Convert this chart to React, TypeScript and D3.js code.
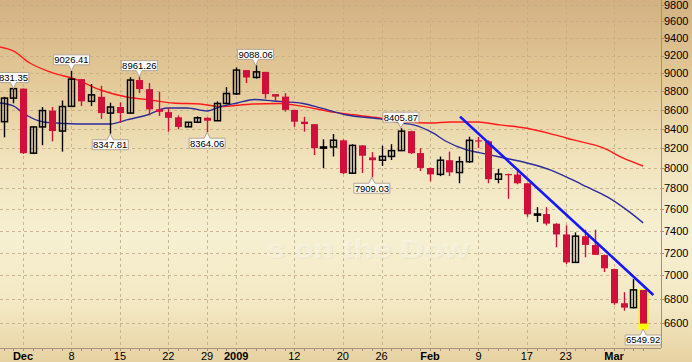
import React from 'react';
import * as d3 from 'd3';

const W = 692;
const H = 362;

// Trading days (Nov 26 2008 .. Mar 5 2009)
const dates = [
  'Nov 26', 'Nov 28',
  'Dec 1', 'Dec 2', 'Dec 3', 'Dec 4', 'Dec 5', 'Dec 8', 'Dec 9', 'Dec 10', 'Dec 11', 'Dec 12',
  'Dec 15', 'Dec 16', 'Dec 17', 'Dec 18', 'Dec 19', 'Dec 22', 'Dec 23', 'Dec 24', 'Dec 26',
  'Dec 29', 'Dec 30', 'Dec 31', 'Jan 2', 'Jan 5', 'Jan 6', 'Jan 7', 'Jan 8', 'Jan 9',
  'Jan 12', 'Jan 13', 'Jan 14', 'Jan 15', 'Jan 16', 'Jan 20', 'Jan 21', 'Jan 22', 'Jan 23',
  'Jan 26', 'Jan 27', 'Jan 28', 'Jan 29', 'Jan 30', 'Feb 2', 'Feb 3', 'Feb 4', 'Feb 5', 'Feb 6',
  'Feb 9', 'Feb 10', 'Feb 11', 'Feb 12', 'Feb 13', 'Feb 17', 'Feb 18', 'Feb 19', 'Feb 20',
  'Feb 23', 'Feb 24', 'Feb 25', 'Feb 26', 'Feb 27', 'Mar 2', 'Mar 3', 'Mar 4', 'Mar 5',
];

const opens = [
  8474, 8726,
  8829, 8149, 8419, 8591, 8376, 8637, 8934, 8691, 8740, 8565,
  8630, 8565, 8924, 8824, 8605, 8575, 8520, 8420, 8468,
  8515, 8484, 8668, 8772, 9035, 8953, 9015, 8769, 8742,
  8599, 8474, 8448, 8200, 8212, 8280, 7949, 8228, 8106,
  8078, 8116, 8175, 8375, 8150, 8000, 7937, 8078, 7955, 8063,
  8280, 8270, 7889, 7940, 7935, 7850, 7552, 7555, 7465,
  7366, 7115, 7350, 7270, 7180, 7056, 6763, 6726, 6875,
];
const highs = [
  8740, 8831.35,
  8831, 8420, 8630, 8630, 8700, 9026.41, 8936, 8880, 8860, 8677,
  8680, 8955, 8961.26, 8890, 8796, 8620, 8540, 8470, 8530,
  8520, 8690, 8845, 9065, 9035, 9088.06, 9015, 8770, 8780,
  8600, 8525, 8450, 8291, 8345, 8290, 8240, 8230, 8160,
  8225, 8240, 8405.87, 8380, 8200, 8005, 8115, 8165, 8115, 8317,
  8315, 8280, 7990, 7945, 7970, 7850, 7620, 7620, 7470,
  7450, 7385, 7410, 7410, 7185, 7060, 6856, 6968, 6875,
];
const lows = [
  8311, 8670,
  8141, 8140, 8230, 8270, 8165, 8635, 8640, 8640, 8503, 8347.81,
  8463, 8560, 8780, 8540, 8535, 8370, 8395, 8418, 8460,
  8364.06, 8484, 8660, 8760, 8890, 8940, 8720, 8700, 8580,
  8420, 8370, 8130, 7998, 8115, 7940, 7945, 7950, 7909.03,
  8020, 8080, 8170, 8140, 7970, 7870, 7920, 7920, 7850, 8050,
  8200, 7850, 7850, 7700, 7840, 7530, 7480, 7450, 7250,
  7100, 7110, 7160, 7180, 7030, 6750, 6700, 6720, 6549.92,
];
const closes = [
  8726, 8829,
  8149, 8419, 8592, 8376, 8635, 8934, 8691, 8761, 8565, 8630,
  8565, 8924, 8824, 8605, 8579, 8515, 8419, 8468, 8515,
  8484, 8668, 8776, 9035, 8953, 9015, 8770, 8742, 8599,
  8474, 8449, 8200, 8212, 8281, 7949, 8228, 8123, 8078,
  8116, 8175, 8375, 8149, 8001, 7937, 8078, 7957, 8063, 8280,
  8271, 7889, 7940, 7933, 7850, 7553, 7556, 7466, 7366,
  7115, 7351, 7271, 7182, 7063, 6763, 6726, 6876, 6594,
];

// Moving averages: [day position, value]
const redMA: [number, number][] = [
  [-0.4, 9298], [1.0, 9252], [2.7, 9115], [4.8, 9014], [7.6, 8925], [10.0, 8814],
  [12.7, 8738], [15.1, 8706], [17.5, 8673], [20.3, 8662], [22.3, 8635], [25.7, 8662],
  [28.5, 8668], [30.6, 8642], [34.2, 8572], [35.4, 8555], [38.8, 8513], [41.6, 8471],
  [44.0, 8460], [46.1, 8471], [48.9, 8471], [51.2, 8440], [54.0, 8405], [56.9, 8336],
  [58.8, 8284], [61.9, 8202], [63.9, 8101], [66.0, 8020],
];
const blueMA: [number, number][] = [
  [-0.4, 8673], [1.0, 8642], [2.0, 8566], [4.1, 8471], [5.5, 8460], [8.2, 8450],
  [11.0, 8450], [12.7, 8493], [14.8, 8545], [16.9, 8620], [18.9, 8620], [21.0, 8588],
  [22.3, 8631], [24.1, 8673], [25.9, 8711], [27.8, 8695], [30.9, 8668], [32.7, 8620],
  [35.4, 8545], [38.8, 8503], [40.9, 8460], [42.3, 8440], [44.3, 8356], [45.6, 8273],
  [47.8, 8182], [49.2, 8152], [51.2, 8110], [54.0, 8050], [56.4, 7981], [58.5, 7892],
  [60.2, 7814], [62.3, 7718], [64.3, 7594], [66.0, 7473],
];
const trendLine: [number, number][] = [[47.1, 8527], [67.05, 6833]];

// Annotations: [day index, value, side]
const labelIdx = [1, 7, 11, 14, 21, 26, 38, 41, 66];
const labelVal = [8831.35, 9026.41, 8347.81, 8961.26, 8364.06, 9088.06, 7909.03, 8405.87, 6549.92];
const labelSide = ['high', 'high', 'low', 'high', 'low', 'high', 'low', 'high', 'low'];

// X tick labels
const xTickIdx = [2, 7, 12, 17, 21, 24, 30, 35, 39, 44, 49, 54, 58, 63];
const xTickText = ['Dec', '8', '15', '22', '29', '2009', '12', '20', '26', 'Feb', '9', '17', '23', 'Mar'];
const xTickBold = [true, false, false, false, false, true, false, false, false, true, false, false, false, true];

const yTicks = [6600, 6800, 7000, 7200, 7400, 7600, 7800, 8000, 8200, 8400, 8600, 8800, 9000, 9200, 9400, 9600, 9800];

const PLOT_R = 661;
const PLOT_B = 348;
const RED = '#d0103a';

export default function App() {
  const x = d3.scaleLinear().domain([-0.374, 67.84]).range([0, PLOT_R]);
  const y = d3.scaleLog().domain([6397, 9857]).range([PLOT_B, 0]);
  const bodyW = 7;

  const line = d3.line<[number, number]>().x(d => x(d[0])).y(d => y(d[1])).curve(d3.curveMonotoneX);

  const candles = dates.map((dt, i) => {
    const cx = Math.round(x(i)) + 0.5;
    const up = closes[i] >= opens[i];
    const yO = y(opens[i]);
    const yC = y(closes[i]);
    const top = Math.min(yO, yC);
    const h = Math.max(Math.abs(yO - yC), 1.2);
    const yH = y(highs[i]);
    const yL = y(lows[i]);
    const last = i === dates.length - 1;
    const col = up ? '#000' : RED;
    return (
      <g key={dt}>
        {last && (
          <rect x={cx - bodyW / 2 - 1.5} y={top - 1} width={bodyW + 3} height={yL - top + 2} fill="#ffff00" />
        )}
        {!last && <line x1={cx} x2={cx} y1={yH} y2={yL} stroke={col} strokeWidth={1.4} />}
        {up ? (
          <rect x={cx - bodyW / 2 + 0.5} y={top} width={bodyW - 1} height={h} fill="none" stroke="#000" strokeWidth={1.5} />
        ) : (
          <rect x={cx - bodyW / 2} y={top} width={bodyW} height={h} fill={RED} />
        )}
      </g>
    );
  });

  const labels = labelIdx.map((li, k) => {
    const cx = x(li);
    const bx = k === 0 ? cx - 2.5 : cx;
    const v = labelVal[k];
    const txt = v.toFixed(2);
    const w = 36;
    const bh = 10;
    const tip = y(v);
    let path: string;
    let ty: number;
    if (labelSide[k] === 'high') {
      const b = tip - 6;
      const t = b - bh;
      path = `M${bx - w / 2},${t} H${bx + w / 2} V${b} H${cx + 3} L${cx},${tip} L${cx - 3},${b} H${bx - w / 2} Z`;
      ty = t + bh / 2;
    } else {
      const t = tip + 6;
      const b = t + bh;
      path = `M${bx - w / 2},${t} H${cx - 3} L${cx},${tip} L${cx + 3},${t} H${bx + w / 2} V${b} H${bx - w / 2} Z`;
      ty = t + bh / 2;
    }
    return (
      <g key={'lab' + k}>
        <path d={path} fill="#ffffff" stroke="#b4a493" strokeWidth={1} />
        <text x={bx} y={ty} dy="0.36em" textAnchor="middle" fontSize={9.5} fontFamily="'Liberation Sans', Arial, sans-serif" fill="#000">
          {txt}
        </text>
      </g>
    );
  });

  return (
    <svg width={W} height={H} style={{ position: 'absolute', left: 0, top: 0, display: 'block' }}>
      <defs>
        <linearGradient id="bg" x1="0" y1="0" x2="0" y2="1">
          <stop offset="0" stopColor="#d3b182" />
          <stop offset="0.22" stopColor="#e3c997" />
          <stop offset="0.45" stopColor="#f1e4bd" />
          <stop offset="0.65" stopColor="#f6f0d2" />
          <stop offset="0.85" stopColor="#f3e8c2" />
          <stop offset="1" stopColor="#e6d2a2" />
        </linearGradient>
        <clipPath id="plot">
          <rect x={0} y={0} width={PLOT_R} height={PLOT_B} />
        </clipPath>
      </defs>
      <rect x={0} y={0} width={W} height={H} fill="url(#bg)" />

      {/* grid */}
      <g stroke="#c5ad86" strokeWidth={1} strokeDasharray="3,3" opacity={0.85}>
        {yTicks.map(t => (
          <line key={'gy' + t} x1={0} x2={PLOT_R} y1={Math.round(y(t)) + 0.5} y2={Math.round(y(t)) + 0.5} />
        ))}
        {xTickIdx.map(i => (
          <line key={'gx' + i} x1={Math.round(x(i)) + 0.5} x2={Math.round(x(i)) + 0.5} y1={0} y2={PLOT_B} />
        ))}
      </g>

      {/* faint watermark */}
      <g fontFamily="'Liberation Sans', Arial, sans-serif" fontWeight="bold" fontSize={26}>
        <text x={268} y={259} textLength={202} lengthAdjust="spacingAndGlyphs" fill="#d8cca6" opacity={0.22}>s on the Dow</text>
        <text x={267} y={258} textLength={202} lengthAdjust="spacingAndGlyphs" fill="#ffffff" opacity={0.35}>s on the Dow</text>
      </g>

      <g clipPath="url(#plot)">
        <path d={line(redMA) || ''} fill="none" stroke="#ff1a1a" strokeWidth={1.4} />
        <path d={line(blueMA) || ''} fill="none" stroke="#2b2b9a" strokeWidth={1.4} />
        {candles}
        <path d={d3.line<[number, number]>().x(d => x(d[0])).y(d => y(d[1]))(trendLine) || ''} fill="none" stroke="#1515ff" strokeWidth={2.6} />
        {labels}
      </g>

      {/* axes */}
      <line x1={PLOT_R + 0.5} x2={PLOT_R + 0.5} y1={0} y2={PLOT_B} stroke="#a89080" strokeWidth={1} />
      <line x1={0} x2={PLOT_R} y1={PLOT_B + 0.5} y2={PLOT_B + 0.5} stroke="#a89080" strokeWidth={1} />
      <g stroke="#a89080" strokeWidth={1}>
        {dates.map((d, i) => (
          <line key={'mt' + i} x1={Math.round(x(i)) + 0.5} x2={Math.round(x(i)) + 0.5} y1={PLOT_B} y2={PLOT_B + 3} />
        ))}
        {yTicks.map(t => (
          <line key={'yt' + t} x1={PLOT_R} x2={PLOT_R + 3} y1={Math.round(y(t)) + 0.5} y2={Math.round(y(t)) + 0.5} />
        ))}
      </g>
      <g fontFamily="'Liberation Sans', Arial, sans-serif" fontSize={11} fill="#000">
        {yTicks.map(t => (
          <text key={'yl' + t} x={664} y={y(t)} dy="0.36em">{t}</text>
        ))}
        {xTickIdx.map((i, k) => (
          <text key={'xl' + i} x={x(i)} y={360} textAnchor="middle" fontWeight={xTickBold[k] ? 'bold' : 'normal'}>
            {xTickText[k]}
          </text>
        ))}
      </g>
    </svg>
  );
}
